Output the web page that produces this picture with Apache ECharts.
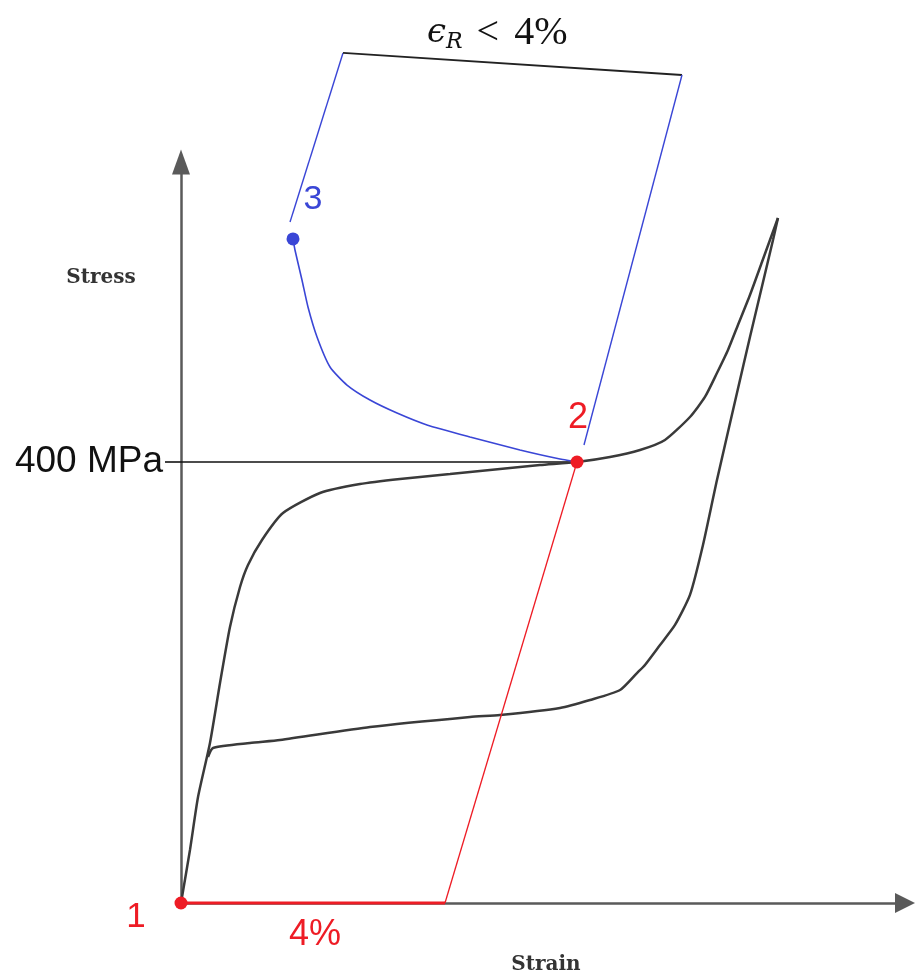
<!DOCTYPE html>
<html><head><meta charset="utf-8">
<script src="https://cdn.jsdelivr.net/npm/echarts@6/dist/echarts.min.js"></script>
<style>html,body{margin:0;padding:0;background:#fff}#c{width:918px;height:977px}</style>
</head><body><div id="c"></div>
<script>
// strain in %, stress in MPa
const loadingCurve = [[0,0],[0.136,48.1],[0.258,96.1],[0.439,145.1],[0.591,199.5],[0.742,250.3],[0.894,286.6],[1.015,306.6],[1.227,329.3],[1.545,353.7],[2.106,371.9],[2.712,380.0],[3.318,384.6],[4.076,389.1],[4.833,393.7],[5.439,397.3],[6.0,400],[6.5,404.5],[6.955,410.9],[7.333,420.0],[7.712,440.8],[7.939,459.0],[8.121,480.7],[8.288,501.6],[8.439,524.3],[8.621,551.5],[8.803,581.4],[9.045,621.3]];
const unloadingCurve = [[9.045,621.3],[8.970,601.4],[8.621,513.4],[8.424,462.6],[8.121,383.7],[7.909,324.7],[7.712,279.4],[7.485,252.2],[7.258,234.0],[7.030,215.9],[6.909,208.6],[6.652,193.2],[6.197,184.1],[5.742,176.9],[4.833,170.5],[4.379,168.7],[2.864,159.6],[1.5,147.8],[1.045,145.1],[0.485,140.6],[0.409,132.4]];
const recoveryCurve = [[1.697,602.3],[1.727,592.3],[1.833,565.1],[1.924,540.6],[2.061,513.4],[2.258,486.2],[2.515,469.8],[2.864,456.2],[3.273,444.4],[3.727,433.6],[4.379,422.7],[5.136,410.9],[5.742,402.7],[6.0,400]];
const bracketLeft = [[1.652,617.7],[2.455,771.0]];
const bracketTop = [[2.455,771.0],[7.591,751.0]];
const bracketRight = [[7.591,751.0],[6.106,415.4]];
const residualStrain = [[0,0],[4,0]];
const elasticUnload = [[4,0],[6,400]];
const stressLevel = [[0,400],[6,400]];
const point1 = [[0,0]];
const point2 = [[6,400]];
const point3 = [[1.697,602.3]];
const stressTicks = [400];
const strainMax = 10.97;
const stressMax = 672.1;

const chart = echarts.init(document.getElementById('c'));
const RED = '#ee1c25', BLUE = '#3a46d6', CURVE = '#3a3a3a';
function line(data, color, width, smooth, z) {
  return {type:'line', data, symbol:'none', showSymbol:false, clip:false, smooth: smooth||false,
    lineStyle:{color, width}, z: z||2, silent:true};
}
function dot(data, color, label, offset, fs) {
  return {type:'scatter', data, symbol:'circle', symbolSize:13, clip:false, z:5,
    itemStyle:{color, opacity:1},
    label:{show:true, position:'inside', offset, formatter:label, color, fontSize:fs, opacity:1,
      fontFamily:'Liberation Sans, Arial, sans-serif'}};
}
chart.setOption({
  animation:false,
  backgroundColor:'#fff',
  grid:{left:181, right:13, top:162, bottom:74},
  xAxis:{type:'value', min:0, max:strainMax,
    axisLine:{show:true, onZero:false, symbol:['none','triangle'], symbolSize:[20,20],
      lineStyle:{color:'#5a5a5a', width:2.5}},
    axisTick:{show:false}, axisLabel:{show:false}, splitLine:{show:false}},
  yAxis:{type:'value', min:0, max:stressMax,
    axisLine:{show:true, onZero:false, symbol:['none','triangle'], symbolSize:[18,25],
      lineStyle:{color:'#5a5a5a', width:2.5}},
    axisTick:{show:true, customValues:stressTicks, length:16, lineStyle:{color:'#111', width:1.6}},
    axisLabel:{show:true, customValues:stressTicks, formatter:'{value} MPa', margin:18,
      color:'#111', fontSize:37, fontFamily:'Liberation Sans, Arial, sans-serif', padding:[0,0,6,0]},
    splitLine:{show:false}},
  graphic:[
    {type:'text', x:101, y:278, style:{text:'Stress', fill:'#333', font:'bold 20px "DejaVu Serif", serif', textAlign:'center', textVerticalAlign:'middle'}},
    {type:'text', x:546, y:965, style:{text:'Strain', fill:'#333', font:'bold 20px "DejaVu Serif", serif', textAlign:'center', textVerticalAlign:'middle'}},
    {type:'text', x:315, y:935, style:{text:'4%', fill:RED, font:'36px "Liberation Sans", Arial, sans-serif', textAlign:'center', textVerticalAlign:'middle'}},
    {type:'text', x:427, y:13, style:{text:'{e|ϵ}{r|R}{lt|<}{o|4%}', textAlign:'left', textVerticalAlign:'top',
      rich:{
        e:{fontFamily:'DejaVu Serif', fontStyle:'italic', fontSize:34, fill:'#111', lineHeight:40, verticalAlign:'middle'},
        r:{fontFamily:'DejaVu Serif', fontStyle:'italic', fontSize:22, fill:'#111', lineHeight:40, verticalAlign:'bottom'},
        lt:{fontFamily:'Liberation Serif', fontSize:40, fill:'#111', lineHeight:40, verticalAlign:'middle', padding:[0,15,0,14]},
        o:{fontFamily:'Liberation Serif', fontSize:40, fill:'#111', lineHeight:40, verticalAlign:'middle'}
      }}}
  ],
  series:[
    line(stressLevel, '#111', 1.6, false, 1),
    line(loadingCurve, CURVE, 2.5, 0.2, 2),
    line(unloadingCurve, CURVE, 2.5, 0.2, 2),
    line(recoveryCurve, BLUE, 1.6, 0.2, 3),
    line(bracketLeft, BLUE, 1.4, false, 3),
    line(bracketTop, '#222', 1.8, false, 3),
    line(bracketRight, BLUE, 1.4, false, 3),
    line(residualStrain, RED, 3, false, 4),
    line(elasticUnload, RED, 1.3, false, 4),
    dot(point1, RED, '1', [-45,14], 35),
    dot(point2, RED, '2', [1,-44], 36),
    dot(point3, BLUE, '3', [20,-39], 34)
  ]
});
</script></body></html>
